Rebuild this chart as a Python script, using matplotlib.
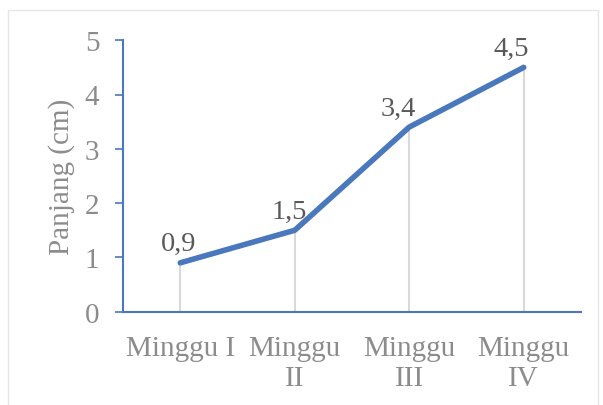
import matplotlib.pyplot as plt
from matplotlib.patches import Rectangle

kategori = ['Minggu I', 'Minggu\nII', 'Minggu\nIII', 'Minggu\nIV']
panjang = [0.9, 1.5, 3.4, 4.5]
label_nilai = ['0,9', '1,5', '3,4', '4,5']
y_ticks = [0, 1, 2, 3, 4, 5]

plt.rcParams['font.family'] = ['Liberation Serif', 'DejaVu Serif']

fig = plt.figure(figsize=(6.03, 4.06), dpi=100)
ax = fig.add_axes([123/603, 1-312.7/406, 458/603, 271.5/406])

# bingkai luar chart
fig.patches.append(Rectangle((8/603, -0.01), 590/603, 1-11/406+0.01, transform=fig.transFigure,
                             fill=False, edgecolor='#e6e6e6', linewidth=1))

x = list(range(len(kategori)))
# garis bantu vertikal
ax.vlines(x, 0, panjang, colors='#d9d9d9', linewidth=1.5, zorder=1)
ax.plot(x, panjang, color='#4a78bd', linewidth=4, solid_capstyle='round', zorder=3)

geser = [-2, -6, -11, -13]
for xi, yi, t, dx in zip(x, panjang, label_nilai, geser):
    ax.annotate(t, (xi, yi), xytext=(dx*0.72, 9), textcoords='offset points',
                ha='center', va='baseline', fontsize=20.5, color='#595959')

ax.set_xlim(-0.5, 3.5)
ax.set_ylim(0, 5)
ax.set_yticks(y_ticks)
ax.set_xticks(x)
ax.set_xticklabels(kategori, fontsize=21, color='#8c8c8c', linespacing=1.2)
ax.tick_params(axis='x', length=0, pad=17)
ax.tick_params(axis='y', length=6, width=1.2, color='#4a78bd', labelsize=21,
               labelcolor='#8c8c8c', pad=11)
for s in ['top', 'right']:
    ax.spines[s].set_visible(False)
for s in ['left', 'bottom']:
    ax.spines[s].set_color('#4a78bd')
    ax.spines[s].set_linewidth(1.5)

fig.text(62/603, 1-177/406, 'Panjang (cm)', rotation=90, ha='center', va='center',
         fontsize=21, color='#8c8c8c')

fig.savefig('out.png', dpi=100)
